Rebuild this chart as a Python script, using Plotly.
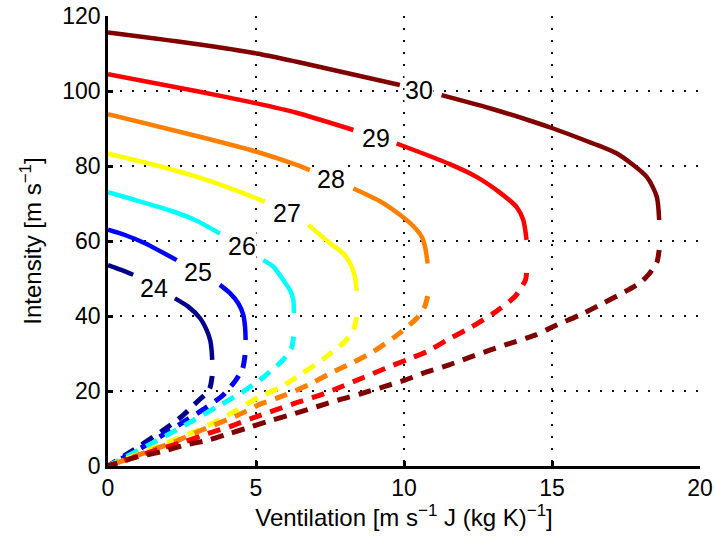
import plotly.graph_objects as go

# ---------------- data ----------------
sst_values = [24, 25, 26, 27, 28, 29, 30]
line_colors = ["#00008C", "#0000FF", "#00FFFF", "#FFFF00", "#FF8000", "#FF0000", "#800000"]

# SST 24
s24_top1_x = [0, 0.45, 0.85]
s24_top1_y = [53.6, 52.3, 51.0]
s24_top2_x = [2.26, 2.71, 3.11, 3.33, 3.45, 3.5, 3.52]
s24_top2_y = [44.7, 42.5, 39.4, 36.3, 33.6, 30.9, 28.3]
s24_low_x = [3.52, 3.45, 3.3, 3.1, 2.46, 1.8, 1.02, 0]
s24_low_y = [24.0, 21.0, 19.2, 17.8, 13.0, 9.2, 5.1, 0]

# SST 25
s25_top1_x = [0, 0.57, 1.25, 2.32]
s25_top1_y = [63.0, 61.6, 59.4, 54.9]
s25_top2_x = [3.78, 4.12, 4.4, 4.57, 4.63, 4.65]
s25_top2_y = [48.3, 46.1, 43.4, 40.3, 37.1, 33.6]
s25_low_x = [4.63, 4.55, 4.3, 3.9, 3.3, 2.7, 2.1, 1.36, 0]
s25_low_y = [29.6, 26.0, 22.7, 19.0, 15.5, 12.5, 9.5, 5.9, 0]

# SST 26
s26_top1_x = [0, 0.8, 2.15, 2.94, 3.78]
s26_top1_y = [73.0, 71.2, 68.0, 65.6, 62.0]
s26_top2_x = [5.25, 5.58, 5.92, 6.15, 6.26, 6.28]
s26_top2_y = [54.9, 53.2, 49.6, 46.9, 44.3, 40.8]
s26_low_x = [6.27, 6.2, 5.89, 5.27, 4.52, 3.69, 2.94, 2.15, 1.4, 0]
s26_low_y = [34.5, 31.5, 28.1, 23.8, 19.6, 15.8, 12.4, 8.9, 5.7, 0]

# SST 27
s27_top1_x = [0, 1.42, 3.1, 4.12, 5.3]
s27_top1_y = [83.3, 80.6, 76.9, 74.1, 70.5]
s27_top2_x = [6.77, 7.5, 7.95, 8.18, 8.34, 8.4]
s27_top2_y = [64.3, 59.4, 56.7, 54.0, 50.5, 46.7]
s27_low_x = [8.4, 8.3, 8.03, 7.3, 6.56, 5.83, 5.08, 4.31, 3.58, 2.85, 2.09, 0]
s27_low_y = [39.7, 36.5, 33.4, 28.7, 24.7, 21.0, 18.3, 14.7, 11.6, 8.9, 6.5, 0]

# SST 28
s28_top1_x = [0, 3.1, 5.02, 6.37, 6.82]
s28_top1_y = [93.8, 87.8, 83.8, 80.3, 78.9]
s28_top2_x = [8.29, 9.19, 9.86, 10.31, 10.6, 10.71, 10.8]
s28_top2_y = [74.0, 70.6, 67.0, 64.0, 61.1, 58.5, 54.0]
s28_low_x = [10.8, 10.7, 10.43, 9.7, 8.96, 8.23, 7.5, 6.77, 5.98, 5.08, 4.4, 3.05, 2.26, 0]
s28_low_y = [45.3, 42.5, 39.4, 34.5, 30.5, 27.4, 24.7, 21.6, 18.9, 16.3, 13.6, 9.2, 6.5, 0]

# SST 29
s29_top1_x = [0, 3.1, 5.02, 6.37, 8.29]
s29_top1_y = [104.5, 99.8, 96.7, 94.2, 89.6]
s29_top2_x = [9.75, 11.55, 12.45, 13.24, 13.8, 14.03, 14.14]
s29_top2_y = [86.0, 80.5, 77.1, 72.9, 69.1, 65.6, 60.3]
s29_low_x = [14.14, 14.1, 13.75, 13.02, 12.29, 11.55, 10.77, 10.09, 9.36, 8.63, 7.9,
             7.16, 6.37, 5.64, 4.85, 4.12, 3.39, 2.6, 1.81, 0]
s29_low_y = [51.5, 49.5, 45.2, 40.7, 37.1, 34.0, 30.5, 28.3, 26.0, 23.6, 21.2,
             18.9, 16.9, 14.9, 12.7, 10.5, 8.7, 6.5, 4.7, 0]

# SST 30
s30_top1_x = [0, 3.1, 5.02, 6.49, 9.86]
s30_top1_y = [115.6, 112.4, 110.0, 107.6, 101.6]
s30_top2_x = [11.27, 12.9, 14.37, 15.04, 16.06, 17.18, 18.2, 18.54, 18.62]
s30_top2_y = [98.9, 95.4, 91.8, 90.0, 87.0, 83.4, 77.1, 71.8, 65.6]
s30_low_x = [18.62, 18.55, 18.3, 18.0, 17.47, 16.73, 15.95, 15.16, 14.43, 13.58, 12.9,
             12.12, 11.5, 10.77, 10.03, 9.3, 8.51, 7.78, 7.05, 6.32, 5.58, 4.85, 4.12,
             3.39, 2.6, 1.81, 1.02, 0]
s30_low_y = [57.6, 54.5, 51.4, 49.0, 46.5, 43.4, 40.3, 37.6, 34.9, 32.7, 30.9,
             28.7, 26.9, 25.1, 22.9, 21.1, 19.2, 17.6, 15.8, 14.0, 12.3, 10.5, 8.7,
             6.9, 5.6, 3.8, 2.5, 0]

# inline label positions (data coordinates)
label_x = [1.56, 3.05, 4.51, 6.06, 7.53, 9.05, 10.5]
label_y = [47.4, 51.8, 58.7, 67.6, 76.5, 87.6, 100.3]

x_ticks = [0, 5, 10, 15, 20]
y_ticks = [0, 20, 40, 60, 80, 100, 120]

# ---------------- figure ----------------
curves = [
    (s24_top1_x, s24_top1_y, s24_top2_x, s24_top2_y, s24_low_x, s24_low_y),
    (s25_top1_x, s25_top1_y, s25_top2_x, s25_top2_y, s25_low_x, s25_low_y),
    (s26_top1_x, s26_top1_y, s26_top2_x, s26_top2_y, s26_low_x, s26_low_y),
    (s27_top1_x, s27_top1_y, s27_top2_x, s27_top2_y, s27_low_x, s27_low_y),
    (s28_top1_x, s28_top1_y, s28_top2_x, s28_top2_y, s28_low_x, s28_low_y),
    (s29_top1_x, s29_top1_y, s29_top2_x, s29_top2_y, s29_low_x, s29_low_y),
    (s30_top1_x, s30_top1_y, s30_top2_x, s30_top2_y, s30_low_x, s30_low_y),
]

fig = go.Figure()
FONT = "Liberation Sans, Arial, sans-serif"

for sst, col, (ax, ay, bx, by, lx, ly) in zip(sst_values, line_colors, curves):
    for xs, ys in ((ax, ay), (bx, by)):
        fig.add_trace(go.Scatter(
            x=xs, y=ys, mode="lines", name=f"{sst}", showlegend=False,
            line=dict(color=col, width=4.5, shape="spline", smoothing=0.7)))
    fig.add_trace(go.Scatter(
        x=lx, y=ly, mode="lines", name=f"{sst}", showlegend=False,
        line=dict(color=col, width=5, dash="13px,9px", shape="spline", smoothing=0.6)))

for sst, lxp, lyp in zip(sst_values, label_x, label_y):
    fig.add_annotation(x=lxp, y=lyp, text=str(sst), showarrow=False,
                       font=dict(family=FONT, size=25, color="black"),
                       bgcolor="white", borderpad=0)

SUP = "<sup><span style='font-size:17px'>−1</span></sup>"

axis_common = dict(
    showline=True, linecolor="black", linewidth=2.5,
    ticks="inside", ticklen=5, tickwidth=2.5, tickcolor="black",
    showgrid=True, gridcolor="#111111", gridwidth=1.6, griddash="2px,10px",
    zeroline=False, mirror=False, automargin=False,
    tickfont=dict(family=FONT, size=23, color="black"),
    title_font=dict(family=FONT, size=24, color="black"),
)

fig.update_xaxes(range=[0, 20], tickvals=x_ticks, ticktext=[str(v) for v in x_ticks],
                 title_text=f"Ventilation [m s{SUP} J (kg K){SUP}]",
                 title_standoff=6, **axis_common)
fig.update_yaxes(range=[0, 120], tickvals=y_ticks, ticktext=[str(v) for v in y_ticks],
                 title_text=f"Intensity [m s{SUP}]",
                 title_standoff=14, **axis_common)

fig.update_layout(
    width=715, height=550,
    margin=dict(l=108, r=15, t=16, b=84),
    paper_bgcolor="white", plot_bgcolor="white",
    showlegend=False,
)

fig.write_html("out.html")
